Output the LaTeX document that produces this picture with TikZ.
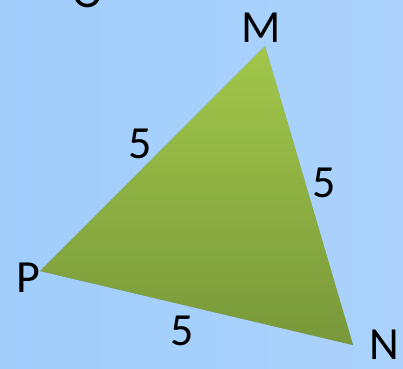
\documentclass[tikz,border=0pt]{standalone}
\usepackage{fontspec}
\setmainfont{Carlito}
\definecolor{bgA}{HTML}{9CCBFA}
\definecolor{bgB}{HTML}{86BDF9}
\definecolor{bgC}{HTML}{A6D0FC}
\definecolor{bgD}{HTML}{C6DFFE}
\definecolor{triTop}{HTML}{A2C74A}
\definecolor{triBot}{HTML}{78983A}
\pgfdeclarehorizontalshading{bgshade}{403bp}{color(0bp)=(bgA); color(60bp)=(bgB); color(200bp)=(bgC); color(403bp)=(bgD)}
\tikzset{
  lbl/.style={font=\fontsize{46}{46}\selectfont, text=black, inner sep=0pt, anchor=base},
}
\begin{document}
\begin{tikzpicture}[x=1pt,y=-1pt]
\useasboundingbox (0,0) rectangle (403,368);
\fill[shading=bgshade] (0,0) rectangle (403,368);
\coordinate (M) at (265,46);
\coordinate (P) at (40,271);
\coordinate (N) at (353,345);
% soft shadow
\foreach \k in {1,...,6}{
  \fill[black, opacity=0.04, shift={(0.6*\k,1.2*\k)}] (M) -- (N) -- (P) -- cycle;
}
\shade[top color=triTop, bottom color=triBot] (M) -- (N) -- (P) -- cycle;
% labels
\node[lbl] (lM) at (261,42) {M};
\node[lbl] (lN) at (384,359) {N};
\node[lbl] (lP) at (28,292) {P};
\node[lbl] (a) at (140,158) {5};
\node[lbl] (b) at (324,197) {5};
\node[lbl] (c) at (182,345) {5};
\begin{scope}
\clip (0,0) rectangle (403,368);
\node[lbl] (lO) at (88,7) {O};
\end{scope}
\end{tikzpicture}
\end{document}
